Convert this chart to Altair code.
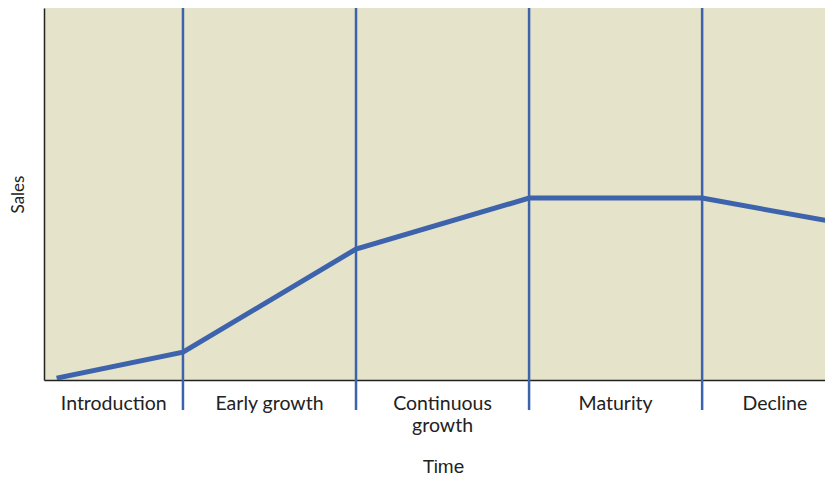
import altair as alt
import pandas as pd

# Stage labels under the x axis and their centre positions (in stage units)
stage_labels = ["Introduction", "Early growth", "Continuous\ngrowth", "Maturity", "Decline"]
label_x = [0.6, 1.5, 2.5, 3.5, 4.42]

# Stage boundaries (vertical separators)
boundaries = [1, 2, 3, 4]

# Sales curve (time in stage units, sales in relative units 0-100)
curve_t = [0.27, 1, 2, 3, 4, 4.76]
curve_sales = [0.5, 7.5, 35.2, 48.9, 48.9, 42.5]

BLUE = "#3D63AC"
BG = "#E5E3C9"

line_df = pd.DataFrame({"t": curve_t, "sales": curve_sales})
bound_df = pd.DataFrame({"t": boundaries})
label_df = pd.DataFrame({"t": label_x, "label": stage_labels})

xscale = alt.Scale(domain=[0.197, 4.71], nice=False, zero=False)
yscale = alt.Scale(domain=[0, 100], nice=False, zero=True)

xaxis = alt.Axis(
    title="Time", labels=False, ticks=False, grid=False,
    domainColor="#222222", domainWidth=1.5,
    titleFont="Liberation Sans", titleFontSize=19, titleFontWeight="normal",
    titleColor="#222222", titleY=92, titleX=399, titleBaseline="alphabetic",
    titleAlign="center",
)
yaxis = alt.Axis(
    title="Sales", labels=False, ticks=False, grid=False,
    domainColor="#222222", domainWidth=1.5,
    titleFont="Lato", titleFontSize=17, titleFontWeight="normal",
    titleColor="#222222", titleAngle=-90, titleX=-26, titleY=186,
    titleAlign="center", titleBaseline="middle",
)

rules = alt.Chart(bound_df).mark_rule(color=BLUE, strokeWidth=2.5).encode(
    x=alt.X("t:Q", scale=xscale, axis=xaxis),
    y=alt.value(0),
    y2=alt.value(402),
)

line = alt.Chart(line_df).mark_line(color=BLUE, strokeWidth=5, clip=True).encode(
    x=alt.X("t:Q", scale=xscale, axis=xaxis),
    y=alt.Y("sales:Q", scale=yscale, axis=yaxis),
)

labels = alt.Chart(label_df).mark_text(
    font="Lato", fontSize=19.5, color="#222222", align="center",
    baseline="alphabetic", lineBreak="\n", lineHeight=22,
).encode(
    x=alt.X("t:Q", scale=xscale, axis=xaxis),
    y=alt.value(402),
    text="label:N",
)

chart = alt.layer(rules, line, labels).properties(
    width=781, height=372,
    padding={"left": 36, "top": 0, "right": 0, "bottom": 99},
    autosize=alt.AutoSizeParams(type="none"),
).configure_view(fill=BG, stroke=None)

chart.save("out.html", embed_options={"renderer": "svg", "actions": False})
